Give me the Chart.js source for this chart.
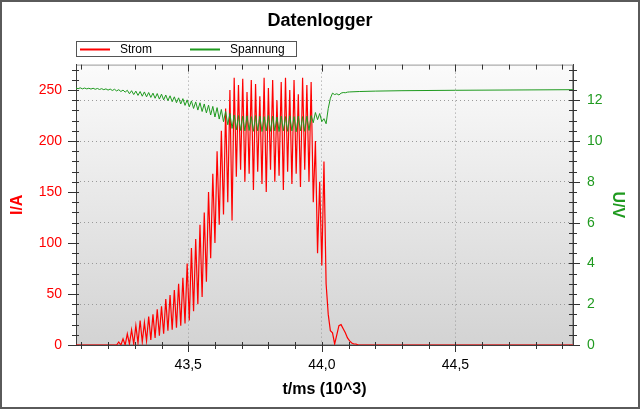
<!DOCTYPE html>
<html>
<head>
<meta charset="utf-8">
<script src="https://cdn.jsdelivr.net/npm/chart.js@4"></script>
<style>
body { margin: 0; background: #fff; }
canvas { display: block; }
</style>
</head>
<body>
<canvas id="myChart" width="640" height="409"></canvas>
<script>
var tMin = 43.08, tMax = 44.94;
var sampleStep = 0.008;

var stromStart = 43.20;
var strom = [0,0,0,0,0,3,0,6,0,11,
  1,15,1,19,2,24,3,22,4,28,
  5,30,7,35,9,38,11,45,14,49,
  15,54,17,60,19,66,21,80,24,95,
  33,104,40,118,47,130,62,150,85,168,
  100,190,118,210,128,232,140,250,122,262,
  165,255,172,261,160,248,168,260,152,256,
  170,244,158,262,150,252,172,260,160,240,
  166,258,152,262,170,250,158,260,168,246,
  155,262,172,255,160,258,140,200,90,160,
  78,180,60,30,14,12,1,10,19,20,
  16,12,7,4,2,1,1,0,0,0,
  0];

var spannungStart = 43.08;
var spannung = [12.60,12.57,12.61,12.56,12.60,12.56,12.59,12.55,12.59,12.54,
  12.58,12.53,12.57,12.52,12.56,12.50,12.55,12.48,12.54,12.46,
  12.52,12.43,12.50,12.40,12.49,12.32,12.47,12.28,12.45,12.24,
  12.43,12.20,12.41,12.17,12.38,12.14,12.35,12.10,12.33,12.06,
  12.30,12.02,12.26,11.98,12.22,11.93,12.17,11.88,12.12,11.82,
  12.08,11.75,12.02,11.68,11.97,11.60,11.92,11.52,11.88,11.45,
  11.82,11.38,11.76,11.28,11.70,11.18,11.64,11.08,11.55,10.95,
  11.45,10.80,11.35,10.62,11.28,10.55,11.25,10.52,11.22,10.50,
  11.24,10.52,11.20,10.48,11.25,10.50,11.22,10.47,11.20,10.50,
  11.25,10.48,11.22,10.50,11.18,10.47,11.22,10.50,11.20,10.48,
  11.24,10.50,11.20,10.46,11.22,10.50,11.20,10.48,11.22,10.52,
  11.25,10.90,11.40,11.05,11.35,10.95,11.10,10.85,11.60,12.10,
  12.35,12.28,12.32,12.26,12.35,12.38,12.37,12.40,12.41];
var spannungTailT = [44.14, 44.2, 44.3, 44.5, 44.94];
var spannungTailV = [12.43, 12.45, 12.47, 12.49, 12.52];

var xTicks = [43.5, 44.0, 44.5];
var iTicks = [0, 50, 100, 150, 200, 250];
var uTicks = [0, 2, 4, 6, 8, 10, 12];

var red = '#ff0000';
var green = '#1f9a1f';
var legendColors = [red, green];

function series(start, values) {
  return values.map(function(v, i) { return {x: start + i * sampleStep, y: v}; });
}

var stromPts = [{x: tMin, y: 0}].concat(series(stromStart, strom), [{x: tMax, y: 0}]);
var spannungPts = series(spannungStart, spannung).concat(spannungTailT.map(function(t, i) {
  return {x: t, y: spannungTailV[i]};
}));

function setTicks(list) {
  return function(scale) { scale.ticks = list.map(function(v) { return {value: v}; }); };
}

var decor = {
  id: 'decor',
  beforeDraw: function(chart) {
    var ctx = chart.ctx, a = chart.chartArea;
    ctx.save();
    ctx.fillStyle = '#fff';
    ctx.fillRect(0, 0, chart.width, chart.height);
    var g = ctx.createLinearGradient(0, a.top, 0, a.bottom);
    g.addColorStop(0, '#fbfbfb');
    g.addColorStop(1, '#d3d3d3');
    ctx.fillStyle = g;
    ctx.fillRect(a.left, a.top, a.right - a.left, a.bottom - a.top);
    ctx.strokeStyle = '#9a9a9a';
    ctx.lineWidth = 1;
    ctx.strokeRect(a.left + 0.5, a.top + 0.5, a.right - a.left - 1, a.bottom - a.top - 1);
    ctx.restore();
  },
  afterDraw: function(chart) {
    var ctx = chart.ctx, a = chart.chartArea;
    var sx = chart.scales.x, sy = chart.scales.y, su = chart.scales.y2;
    ctx.save();
    ctx.setLineDash([]);
    ctx.strokeStyle = '#333';
    ctx.lineWidth = 1;
    ctx.beginPath();
    var v, k, p;
    for (v = 0; v <= 270; v += 10) {
      p = Math.round(sy.getPixelForValue(v)) + 0.5;
      ctx.moveTo(v % 50 == 0 ? a.left - 8 : a.left - 4, p);
      ctx.lineTo(a.left + 3, p);
    }
    for (k = 0; k <= 27; k++) {
      p = Math.round(su.getPixelForValue(k * 0.5)) + 0.5;
      ctx.moveTo(a.right - 4, p);
      ctx.lineTo(k % 4 == 0 ? a.right + 7 : a.right + 4, p);
    }
    for (k = 431; k <= 449; k++) {
      p = Math.round(sx.getPixelForValue(k / 10)) + 0.5;
      var major = k % 5 == 0;
      ctx.moveTo(p, a.bottom - 3);
      ctx.lineTo(p, a.bottom + (major ? 7 : 4));
      ctx.moveTo(p, a.top);
      ctx.lineTo(p, a.top + (major ? 7 : 5));
    }
    ctx.stroke();

    // legend box
    ctx.fillStyle = '#fff';
    ctx.fillRect(76.5, 41.5, 220, 15);
    ctx.strokeStyle = '#555';
    ctx.strokeRect(76.5, 41.5, 220, 15);
    var pos = [80, 190];
    ctx.font = "12px 'Liberation Sans', Arial, sans-serif";
    ctx.textBaseline = 'middle';
    chart.data.datasets.forEach(function(ds, i) {
      ctx.fillStyle = legendColors[i];
      ctx.fillRect(pos[i], 48.5, 30, 2);
      ctx.fillStyle = '#000';
      ctx.fillText(ds.label, pos[i] + 40, 49.5);
    });

    ctx.strokeStyle = '#5a5a5a';
    ctx.lineWidth = 2;
    ctx.strokeRect(1, 1, chart.width - 2, chart.height - 2);
    ctx.restore();
  }
};

Chart.defaults.font.family = "'Liberation Sans', Arial, sans-serif";

var config = {
  type: 'line',
  data: {
    datasets: [{
      label: 'Strom',
      data: stromPts,
      yAxisID: 'y',
      borderColor: red,
      borderWidth: 1.2,
      order: 1
    }, {
      label: 'Spannung',
      data: spannungPts,
      yAxisID: 'y2',
      borderColor: green,
      borderWidth: 1,
      order: 0
    }]
  },
  options: {
    responsive: false,
    animation: false,
    events: [],
    elements: { point: { radius: 0 }, line: { tension: 0, fill: false } },
    layout: { padding: 0 },
    plugins: {
      legend: { display: false },
      tooltip: { enabled: false },
      title: {
        display: true,
        text: 'Datenlogger',
        color: '#000',
        font: { size: 18, weight: 'bold' },
        padding: { top: 10, bottom: 33 }
      }
    },
    scales: {
      x: {
        type: 'linear',
        min: tMin,
        max: tMax,
        afterBuildTicks: setTicks(xTicks),
        afterFit: function(s) { s.height = 64; },
        grid: { color: '#9a9a9a', drawTicks: false },
        border: { color: '#404040', dash: [1, 3] },
        ticks: {
          color: '#000',
          font: { size: 14 },
          padding: 12,
          maxRotation: 0,
          autoSkip: false,
          callback: function(v) { return v.toFixed(1).replace('.', ','); }
        },
        title: {
          display: true,
          text: 't/ms (10^3)',
          color: '#000',
          font: { size: 16, weight: 'bold' },
          padding: { top: 10, bottom: 10 }
        }
      },
      y: {
        position: 'left',
        min: 0,
        max: 275,
        afterBuildTicks: setTicks(iTicks),
        afterFit: function(s) { s.width = 76; },
        grid: { display: false, drawTicks: false },
        border: { color: '#404040' },
        ticks: { color: red, font: { size: 14 }, padding: 14 },
        title: {
          display: true,
          text: 'I/A',
          color: red,
          font: { size: 16, weight: 'bold' },
          padding: { top: 8, bottom: 8 }
        }
      },
      y2: {
        position: 'right',
        min: 0,
        max: 13.75,
        afterBuildTicks: setTicks(uTicks),
        afterFit: function(s) { s.width = 67; },
        grid: { color: '#9a9a9a', drawTicks: false },
        border: { color: '#404040', dash: [1, 3] },
        ticks: { color: green, font: { size: 14 }, padding: 14 },
        title: {
          display: true,
          text: 'U/V',
          color: green,
          font: { size: 16, weight: 'bold' },
          padding: { top: 13, bottom: 13 }
        }
      }
    }
  },
  plugins: [decor]
};

var myChart = new Chart(document.getElementById('myChart').getContext('2d'), config);
</script>
</body>
</html>
